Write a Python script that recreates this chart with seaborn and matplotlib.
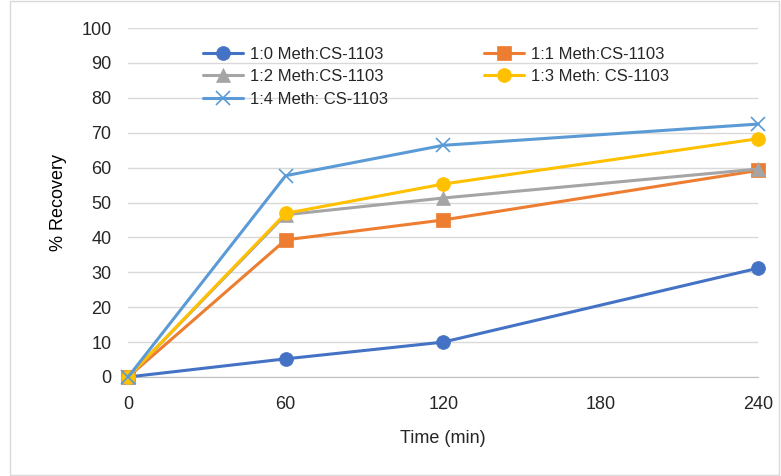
import numpy as np
import pandas as pd
import matplotlib.pyplot as plt
import seaborn as sns
from matplotlib.patches import Rectangle

# data
time_min = [0, 60, 120, 240]
series_names = ["1:0 Meth:CS-1103", "1:1 Meth:CS-1103", "1:2 Meth:CS-1103",
                "1:3 Meth: CS-1103", "1:4 Meth: CS-1103"]
rec_1_0 = [0, 5.2, 10.0, 31.2]
rec_1_1 = [0, 39.3, 45.0, 59.2]
rec_1_2 = [0, 46.5, 51.3, 59.6]
rec_1_3 = [0, 46.9, 55.3, 68.3]
rec_1_4 = [0, 57.7, 66.4, 72.5]

colors = ["#4472C4", "#ED7D31", "#A5A5A5", "#FFC000", "#5B9BD5"]
markers = ["o", "s", "^", "o", "x"]

rows = []
for name, vals in zip(series_names, [rec_1_0, rec_1_1, rec_1_2, rec_1_3, rec_1_4]):
    for t, v in zip(time_min, vals):
        rows.append({"Time": t, "Recovery": v, "Series": name})
df = pd.DataFrame(rows)

sns.set_style("white")
plt.rcParams['font.family'] = ['Liberation Sans', 'DejaVu Sans']

fig = plt.figure(figsize=(7.81, 4.76), dpi=100)
ax = fig.add_axes([0.164, 0.208, 0.807, 0.733])

for name, col, mk in zip(series_names, colors, markers):
    sub = df[df["Series"] == name]
    sns.lineplot(data=sub, x="Time", y="Recovery", ax=ax, color=col, marker=mk,
                 markersize=10, markeredgecolor=col,
                 markeredgewidth=1.2 if mk == "x" else 0.5,
                 linewidth=2.2, label=name, zorder=3, clip_on=False)

ax.set_xlim(0, 240)
ax.set_ylim(0, 100)
ax.set_xticks([0, 60, 120, 180, 240])
ax.set_yticks(np.arange(0, 101, 10))
ax.yaxis.grid(True, color="#D9D9D9", linewidth=1)
ax.xaxis.grid(False)
ax.set_axisbelow(True)
for s in ["top", "right", "left"]:
    ax.spines[s].set_visible(False)
ax.spines["bottom"].set_color("#BFBFBF")
ax.tick_params(axis="x", length=0, labelsize=13, colors="#262626", pad=14)
ax.tick_params(axis="y", length=0, labelsize=13, colors="#262626", pad=12)
ax.set_xlabel("Time (min)", fontsize=13, color="#262626", labelpad=12)
ax.set_ylabel("% Recovery", fontsize=13, color="#000000", labelpad=10)

# legend filled row by row like the original
handles, labels = ax.get_legend_handles_labels()
order = [0, 2, 4, 1, 3]
ax.legend([handles[i] for i in order], [labels[i] for i in order], ncol=2,
          loc="upper left", bbox_to_anchor=(0.095, 0.99), frameon=False,
          fontsize=12, handlelength=2.4, columnspacing=5.8, labelspacing=0.46,
          handletextpad=0.4)

fig.patches.append(Rectangle((0.013, 0.002), 0.985, 0.996, transform=fig.transFigure,
                             fill=False, edgecolor="#D9D9D9", linewidth=1))

fig.savefig("out.png", dpi=100)
